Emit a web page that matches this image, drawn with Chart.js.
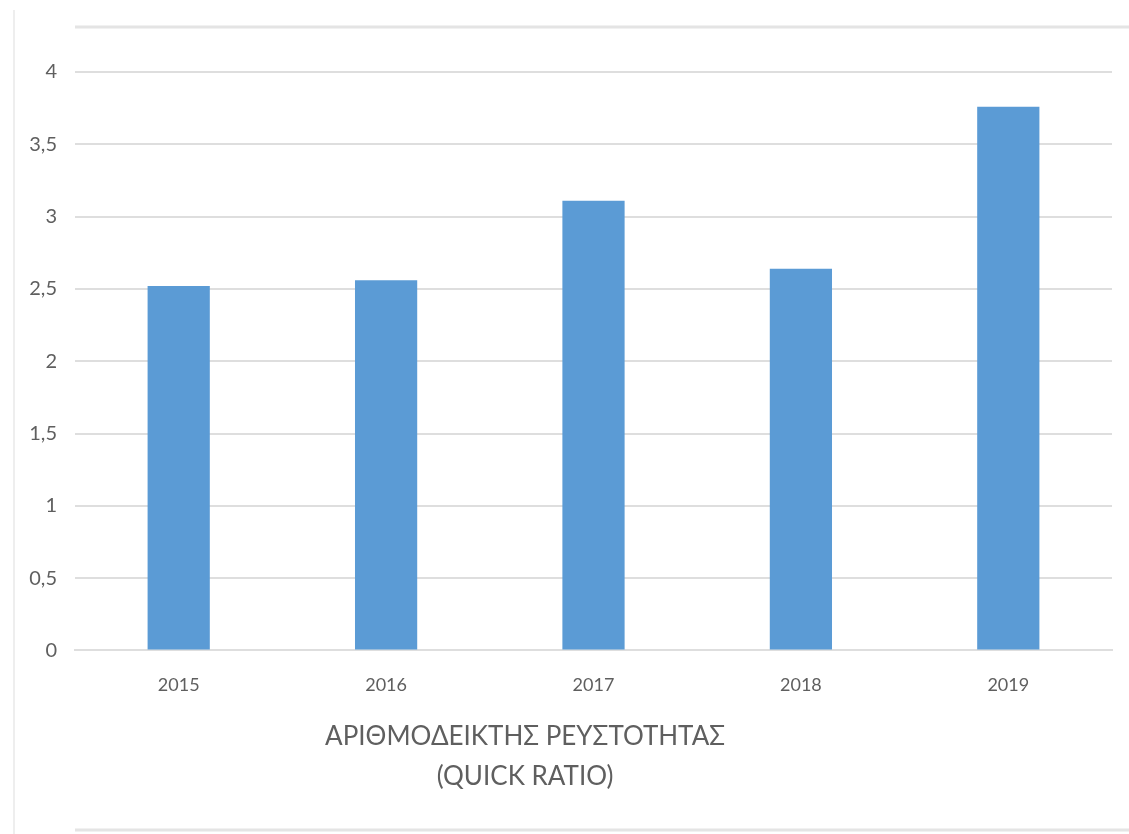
<!DOCTYPE html>
<html>
<head>
<meta charset="utf-8">
<title>Quick ratio</title>
<script src="https://cdn.jsdelivr.net/npm/chart.js@4"></script>
<style>
    html, body { margin: 0; padding: 0; background: #fff; }
    #wrap { position: relative; width: 1129px; height: 834px; }
</style>
</head>
<body>
<div id="wrap"><canvas id="quick-ratio-chart"></canvas></div>
<script>
const years = ["2015", "2016", "2017", "2018", "2019"];
const quickRatio = [2.52, 2.56, 3.11, 2.64, 3.76];
const titleLines = ["ΑΡΙΘΜΟΔΕΙΚΤΗΣ ΡΕΥΣΤΟΤΗΤΑΣ", "(QUICK RATIO)"];

const TEXT = "#5f5f5f";
const GRID = "#dedede";
const FONT = "Lato, 'Open Sans', sans-serif";

// faint sheet gridlines behind the chart
const sheetLines = {
    id: "sheetLines",
    beforeDraw(chart) {
        const ctx = chart.ctx;
        ctx.save();
        ctx.strokeStyle = "#e4e4e4";
        ctx.lineWidth = 3;
        ctx.beginPath();
        ctx.moveTo(75, 27);
        ctx.lineTo(chart.width, 27);
        ctx.moveTo(75, 830);
        ctx.lineTo(chart.width, 830);
        ctx.stroke();
        ctx.lineWidth = 1.5;
        ctx.strokeStyle = "#e8e8e8";
        ctx.beginPath();
        ctx.moveTo(14, 10);
        ctx.lineTo(14, chart.height);
        ctx.stroke();
        ctx.restore();
    },
};

// two-line caption under the axis
const caption = {
    id: "caption",
    afterDraw(chart) {
        const ctx = chart.ctx;
        const area = chart.chartArea;
        const cx = area.left + (area.right - area.left) * 0.434;
        ctx.save();
        ctx.fillStyle = TEXT;
        ctx.font = "26px " + FONT;
        ctx.textAlign = "center";
        ctx.textBaseline = "middle";
        titleLines.forEach((line, i) => {
            ctx.fillText(line, cx, area.bottom + 86 + i * 40);
        });
        ctx.restore();
    },
};

new Chart(document.getElementById("quick-ratio-chart"), {
    type: "bar",
    data: {
        labels: years,
        datasets: [{
            data: quickRatio,
            backgroundColor: "#5b9bd5",
            categoryPercentage: 1,
            barPercentage: 0.3,
        }],
    },
    options: {
        responsive: true,
        maintainAspectRatio: false,
        animation: false,
        layout: { padding: { top: 72, right: 17, bottom: 122, left: 0 } },
        plugins: {
            legend: { display: false },
            tooltip: { enabled: false },
        },
        scales: {
            x: {
                grid: { display: false },
                border: { display: true, color: GRID, width: 2 },
                ticks: { color: TEXT, font: { family: FONT, size: 18 }, padding: 16 },
            },
            y: {
                min: 0,
                max: 4,
                afterFit(axis) { axis.width = 75; },
                grid: { color: GRID, lineWidth: 2, drawTicks: false },
                border: { display: false },
                ticks: {
                    stepSize: 0.5,
                    padding: 18,
                    color: TEXT,
                    font: { family: FONT, size: 20 },
                    callback: (v) => String(v).replace(".", ","),
                },
            },
        },
    },
    plugins: [sheetLines, caption],
});
</script>
</body>
</html>
